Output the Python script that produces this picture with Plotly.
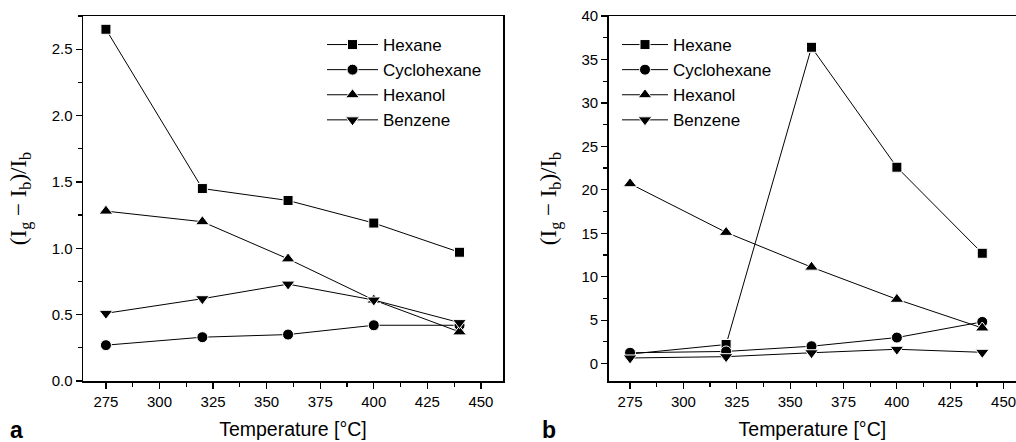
import plotly.graph_objects as go

temps = [275, 320, 360, 400, 440]
series_names = ["Hexane", "Cyclohexane", "Hexanol", "Benzene"]
symbols = ["square", "circle", "triangle-up", "triangle-down"]
marker_sizes = [10, 11, 12, 12]

# Panel a
a_hexane = [2.65, 1.45, 1.36, 1.19, 0.97]
a_cyclohexane = [0.27, 0.33, 0.35, 0.42, 0.42]
a_hexanol = [1.28, 1.20, 0.92, 0.61, 0.37]
a_benzene = [0.51, 0.62, 0.73, 0.61, 0.44]

# Panel b
b_hexane = [1.1, 2.2, 36.4, 22.6, 12.7]
b_cyclohexane = [1.25, 1.4, 2.0, 3.0, 4.8]
b_hexanol = [20.7, 15.1, 11.1, 7.4, 4.1]
b_benzene = [0.65, 0.8, 1.25, 1.65, 1.3]

x_tick_vals = [275, 300, 325, 350, 375, 400, 425, 450]
a_y_ticks = [0.0, 0.5, 1.0, 1.5, 2.0, 2.5]
b_y_ticks = [0, 5, 10, 15, 20, 25, 30, 35, 40]

W, H = 1016, 442


def px(xp):
    return xp / W


def py(yp):
    return 1 - yp / H


fig = go.Figure()

a_data = [a_hexane, a_cyclohexane, a_hexanol, a_benzene]
b_data = [b_hexane, b_cyclohexane, b_hexanol, b_benzene]

for i, (name, vals) in enumerate(zip(series_names, a_data)):
    fig.add_trace(go.Scatter(
        x=temps, y=vals, name=name, mode="lines+markers",
        line=dict(color="black", width=1),
        marker=dict(symbol=symbols[i], size=marker_sizes[i], color="black",
                    line=dict(color="white", width=1)),
        xaxis="x", yaxis="y", legend="legend", legendgroup="a" + str(i),
    ))

for i, (name, vals) in enumerate(zip(series_names, b_data)):
    fig.add_trace(go.Scatter(
        x=temps, y=vals, name=name, mode="lines+markers",
        line=dict(color="black", width=1),
        marker=dict(symbol=symbols[i], size=marker_sizes[i], color="black",
                    line=dict(color="white", width=1)),
        xaxis="x2", yaxis="y2", legend="legend2", legendgroup="b" + str(i),
    ))

tickfont = dict(family="Liberation Sans, Arial", size=15, color="black")
ytitle = "(I<sub>g</sub> − I<sub>b</sub>)/I<sub>b</sub>"

common_x = dict(
    tickmode="array", tickvals=x_tick_vals, ticks="outside", ticklen=6,
    tickwidth=1.2, tickcolor="black", showline=True, linewidth=1.5,
    linecolor="black", showgrid=False, zeroline=False, tickfont=tickfont,
    automargin=False, ticklabeloverflow="allow",
    minor=dict(ticks="outside", ticklen=4, tickwidth=1.2, tickcolor="black",
               tick0=275, dtick=12.5),
    title=dict(text="Temperature [°C]",
               font=dict(family="Liberation Sans, Arial", size=19.5, color="black"),
               standoff=14),
)
common_y = dict(
    ticks="outside", ticklen=6, tickwidth=1.2, tickcolor="black",
    showline=True, linewidth=1.5, linecolor="black", showgrid=False,
    zeroline=False, tickfont=tickfont, automargin=False,
    title=dict(text=ytitle,
               font=dict(family="Liberation Serif, Times New Roman", size=23, color="black"),
               standoff=18),
)

legend_common = dict(
    font=dict(family="Liberation Sans, Arial", size=17, color="black"),
    bgcolor="rgba(0,0,0,0)", borderwidth=0, tracegroupgap=0,
    traceorder="grouped", xanchor="left", yanchor="top",
)

y_dom = [py(381), py(16)]

fig.update_layout(
    width=W, height=H,
    margin=dict(l=0, r=0, t=0, b=0),
    paper_bgcolor="white", plot_bgcolor="white",
    showlegend=True,
    xaxis=dict(common_x, domain=[px(83), px(503)], range=[264.3, 460.3],
               anchor="y", mirror=True),
    yaxis=dict(common_y, domain=y_dom, range=[0, 2.75],
               tickmode="array", tickvals=a_y_ticks, tickformat=".1f",
               minor=dict(ticks="outside", ticklen=4, tickwidth=1.2,
                          tickcolor="black", tick0=0, dtick=0.25),
               anchor="x", mirror=True),
    xaxis2=dict(common_x, domain=[px(608.7), 1.0], range=[265, 455.8],
                anchor="y2", mirror=True),
    yaxis2=dict(common_y, domain=y_dom, range=[-2, 40],
                tickmode="array", tickvals=b_y_ticks,
                minor=dict(ticks="outside", ticklen=4, tickwidth=1.2,
                           tickcolor="black", tick0=0, dtick=2.5),
                anchor="x2", mirror=False),
    legend=dict(legend_common, x=px(322), y=py(27), itemwidth=51),
    legend2=dict(legend_common, x=px(617), y=py(27), itemwidth=46),
    annotations=[
        dict(text="<b>a</b>", x=px(16), y=py(430), xref="paper", yref="paper",
             showarrow=False, xanchor="center", yanchor="middle",
             font=dict(family="Liberation Sans, Arial", size=23, color="black")),
        dict(text="<b>b</b>", x=px(549), y=py(430), xref="paper", yref="paper",
             showarrow=False, xanchor="center", yanchor="middle",
             font=dict(family="Liberation Sans, Arial", size=23, color="black")),
    ],
)

page_css = (
    "document.body.style.margin='0';"
    "document.body.style.overflow='hidden';"
    "document.documentElement.style.overflow='hidden';"
)

fig.write_html("out.html", post_script=page_css,
               config={"displayModeBar": False, "staticPlot": True})
